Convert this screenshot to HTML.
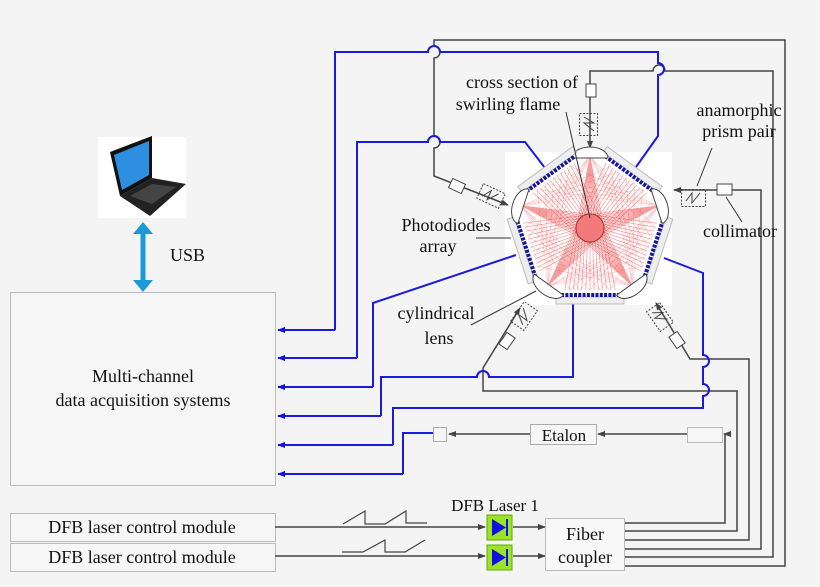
<!DOCTYPE html>
<html><head><meta charset="utf-8"><style>
html,body{margin:0;padding:0;background:#f4f4f4;}
svg{display:block;}
text{font-family:"Liberation Serif",serif;fill:#111;}
</style></head><body>
<svg width="820" height="587" viewBox="0 0 820 587" xmlns="http://www.w3.org/2000/svg" xmlns:xlink="http://www.w3.org/1999/xlink">
<defs>
<marker id="ab" markerWidth="8" markerHeight="8" refX="7" refY="4" orient="auto" markerUnits="userSpaceOnUse"><path d="M0,1 L8,4 L0,7 z" fill="#1010e0"/></marker>
<marker id="ag" markerWidth="8" markerHeight="8" refX="7" refY="4" orient="auto" markerUnits="userSpaceOnUse"><path d="M0,1 L8,4 L0,7 z" fill="#444"/></marker>
<g id="fan">
<path fill="none" stroke="rgba(235,60,60,0.5)" stroke-width="0.7" d="M0,-72 L-25.2,62 M0,-72 L-21,62 M0,-72 L-16.8,62 M0,-72 L-12.6,62 M0,-72 L-8.4,62 M0,-72 L-4.2,62 M0,-72 L0,62 M0,-72 L4.2,62 M0,-72 L8.4,62 M0,-72 L12.6,62 M0,-72 L16.8,62 M0,-72 L21,62 M0,-72 L25.2,62"/>
<path fill="none" stroke="rgba(235,80,80,0.3)" stroke-width="0.6" d="M0,-72 L65.15,0.14 M0,-72 L62.06,9.65 M0,-72 L58.97,19.16 M0,-72 L55.9,28.7 M0,-72 L52.8,38.2 M0,-72 L-65.15,0.14 M0,-72 L-62.06,9.65 M0,-72 L-58.97,19.16 M0,-72 L-55.9,28.7 M0,-72 L-52.8,38.2"/>
</g>
<g id="unit">
<g transform="rotate(36)">
<rect x="-34" y="-76" width="68" height="7" fill="#eee" stroke="#bbb"/>
<line x1="-30" y1="-67" x2="30" y2="-67" stroke="#1515a0" stroke-width="4" stroke-dasharray="3,1.3"/>
</g>
<path d="M-18,-70 A18,11 0 0 1 18,-70 Z" fill="#fff" stroke="#444" stroke-width="1"/>
</g>
</defs>
<rect width="820" height="587" fill="#f4f4f4"/>
<!-- laptop -->
<rect x="98" y="137" width="88" height="81" fill="#fff"/>
<polygon points="110,152 152,136 152,178 120,196" fill="#111"/>
<polygon points="114,155 149,141 149,175 122,190" fill="#2e8fe0"/>
<polygon points="120,196 152,178 186,184 150,216" fill="#222"/>
<polygon points="130,196 152,184 176,187 152,204" fill="#444"/>
<!-- USB -->
<line x1="143" y1="232" x2="143" y2="282" stroke="#1a9ad6" stroke-width="5"/>
<polygon points="133,234 143,222 153,234" fill="#1a9ad6"/>
<polygon points="133,280 143,292 153,280" fill="#1a9ad6"/>
<text x="170" y="261" font-size="18">USB</text>
<!-- DAQ box -->
<rect x="10.5" y="292.5" width="265" height="193" fill="#f6f6f6" stroke="#bbb"/>
<text x="143" y="382" font-size="18" text-anchor="middle">Multi-channel</text>
<text x="143" y="406" font-size="18" text-anchor="middle">data acquisition systems</text>
<rect x="10.5" y="513.5" width="265" height="28" fill="#f6f6f6" stroke="#bbb"/>
<rect x="10.5" y="543.5" width="265" height="28" fill="#f6f6f6" stroke="#bbb"/>
<text x="142" y="533" font-size="18" text-anchor="middle">DFB laser control module</text>
<text x="142" y="563" font-size="18" text-anchor="middle">DFB laser control module</text>

<!-- white pentagon bg -->
<rect x="505" y="152" width="167" height="153" fill="#fff"/>

<!-- grey lines -->
<g fill="none" stroke="#444" stroke-width="1.5">
<path d="M625,523 H725 V434 H724" marker-end="url(#ag)"/>
<path d="M687,434 H598" marker-end="url(#ag)"/>
<path d="M530,434 H449" marker-end="url(#ag)"/>
<path d="M625,531 H737 V391 H483 V368 L520,308" marker-end="url(#ag)"/>
<path d="M625,540 H749 V359 H690 L656,303" marker-end="url(#ag)"/>
<path d="M625,549 H761 V190 H674" marker-end="url(#ag)"/>
<path d="M625,557 H773 V71 H665 A6,6 0 0 0 653,71 H590 V148" marker-end="url(#ag)"/>
<path d="M625,566 H785 V40 H434 V46 A6,6 0 0 1 434,58 V136 A6,6 0 0 1 434,148 V176 L508,205" marker-end="url(#ag)"/>
<path d="M275,527 H485" marker-end="url(#ag)"/>
<path d="M275,556 H485" marker-end="url(#ag)"/>
<path d="M513,527 H545" marker-end="url(#ag)"/>
<path d="M513,556 H545" marker-end="url(#ag)"/>
<path d="M343,524 L365,511 V524 H385 L406,511 V523 H427" stroke-width="1.2"/>
<path d="M342,552 H363 L385,540 V552 H405 L425,540" stroke-width="1.2"/>
</g>
<!-- blue lines -->
<g fill="none" stroke="#1a1ae0" stroke-width="2">
<path d="M335,330 V52 H428 A6,6 0 0 1 440,52 H658 V63 A6,6 0 0 1 658,75 V136 L636,167"/>
<path d="M357,358 V142 H428 A6,6 0 0 1 440,142 H525 L545,168"/>
<path d="M373,387 V303 L516,255"/>
<path d="M381,416 V377 H477 A6,6 0 0 1 489,377 H573 V300"/>
<path d="M393,445 V408 H703 V396 A6,6 0 0 0 703,384 V367 A6,6 0 0 0 703,355 V273 L664,258"/>
<path d="M403,474 V433 H433"/>
<path d="M335,330 H278" marker-end="url(#ab)"/>
<path d="M357,358 H278" marker-end="url(#ab)"/>
<path d="M373,387 H278" marker-end="url(#ab)"/>
<path d="M381,416 H278" marker-end="url(#ab)"/>
<path d="M393,445 H278" marker-end="url(#ab)"/>
<path d="M403,474 H278" marker-end="url(#ab)"/>
</g>
<!-- boxes -->
<rect x="433.5" y="427.5" width="13" height="14" fill="#f6f6f6" stroke="#aaa"/>
<rect x="530.5" y="424.5" width="66" height="20" fill="#f6f6f6" stroke="#aaa"/>
<text x="564" y="441" font-size="17" text-anchor="middle">Etalon</text>
<rect x="687.5" y="427.5" width="35" height="15" fill="#f6f6f6" stroke="#bbb"/>
<rect x="545.5" y="518.5" width="79" height="52" fill="#f8f8f8" stroke="#bbb"/>
<text x="585" y="540" font-size="18" text-anchor="middle">Fiber</text>
<text x="585" y="563" font-size="18" text-anchor="middle">coupler</text>
<text x="495" y="511" font-size="17" text-anchor="middle">DFB Laser 1</text>
<g>
<rect x="487" y="515" width="25" height="25" fill="#9be22a" stroke="#6a0"/>
<polygon points="492,519 506,527.5 492,536" fill="#1010e0"/><line x1="507" y1="519" x2="507" y2="536" stroke="#1010e0" stroke-width="2"/>
<rect x="487" y="545" width="25" height="25" fill="#9be22a" stroke="#6a0"/>
<polygon points="492,549 506,557.5 492,566" fill="#1010e0"/><line x1="507" y1="549" x2="507" y2="566" stroke="#1010e0" stroke-width="2"/>
</g>

<!-- pentagon -->
<g transform="translate(590,228)">
<use xlink:href="#fan" href="#fan"/>
<use xlink:href="#fan" href="#fan" transform="rotate(72)"/>
<use xlink:href="#fan" href="#fan" transform="rotate(144)"/>
<use xlink:href="#fan" href="#fan" transform="rotate(216)"/>
<use xlink:href="#fan" href="#fan" transform="rotate(288)"/>
<circle cx="0" cy="0" r="14" fill="#f27a7a" stroke="#a33" stroke-width="1"/>
<use xlink:href="#unit" href="#unit"/>
<use xlink:href="#unit" href="#unit" transform="rotate(72)"/>
<use xlink:href="#unit" href="#unit" transform="rotate(144)"/>
<use xlink:href="#unit" href="#unit" transform="rotate(216)"/>
<use xlink:href="#unit" href="#unit" transform="rotate(288)"/>
</g>

<!-- collimators / prisms -->
<g fill="#fff" stroke="#444" stroke-width="1">
<rect x="586" y="84" width="10" height="13"/>
<rect x="579.5" y="113.5" width="18" height="22" fill="none" stroke-dasharray="2,1.5"/>
<path d="M584,117 L594,123 L584,123 L594,131" fill="none"/>
<rect x="717" y="184" width="15" height="11"/>
<rect x="681.5" y="189.5" width="24" height="17" fill="none" stroke-dasharray="2,1.5"/>
<path d="M686,201 L692,193 L692,203 L700,193" fill="none"/>
<g transform="translate(457,186) rotate(25)"><rect x="-7" y="-5" width="14" height="10"/></g>
<g transform="translate(491,196) rotate(25)"><rect x="-12" y="-8" width="24" height="16" fill="none" stroke-dasharray="2,1.5"/><path d="M-8,4 L-2,-5 L-2,5 L6,-5" fill="none"/></g>
<g transform="translate(507,341) rotate(-55)"><rect x="-7" y="-5" width="14" height="10"/></g>
<g transform="translate(524,316) rotate(-55)"><rect x="-12" y="-8" width="24" height="16" fill="none" stroke-dasharray="2,1.5"/><path d="M-8,4 L-2,-5 L-2,5 L6,-5" fill="none"/></g>
<g transform="translate(677,340) rotate(55)"><rect x="-7" y="-5" width="14" height="10"/></g>
<g transform="translate(660,317) rotate(55)"><rect x="-12" y="-8" width="24" height="16" fill="none" stroke-dasharray="2,1.5"/><path d="M-8,4 L-2,-5 L-2,5 L6,-5" fill="none"/></g>
</g>

<!-- labels -->
<g stroke="#333" stroke-width="1">
<line x1="566" y1="112" x2="590" y2="218"/>
<line x1="712" y1="148" x2="697" y2="186"/>
<line x1="476" y1="238" x2="511" y2="238"/>
<line x1="742" y1="222" x2="726" y2="197"/>
<line x1="471" y1="325" x2="536" y2="291"/>
</g>
<text x="522" y="88" font-size="18" text-anchor="middle">cross section of</text>
<text x="508" y="110" font-size="18" text-anchor="middle">swirling flame</text>
<text x="739" y="116" font-size="18" text-anchor="middle">anamorphic</text>
<text x="739" y="137" font-size="18" text-anchor="middle">prism pair</text>
<text x="446" y="231" font-size="18" text-anchor="middle">Photodiodes</text>
<text x="438" y="252" font-size="18" text-anchor="middle">array</text>
<text x="740" y="237" font-size="18" text-anchor="middle">collimator</text>
<text x="436" y="319" font-size="18" text-anchor="middle">cylindrical</text>
<text x="439" y="344" font-size="18" text-anchor="middle">lens</text>
</svg>
</body></html>
